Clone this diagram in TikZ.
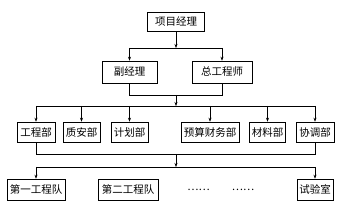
\documentclass[tikz,border=0pt]{standalone}
\usepackage{fontspec}
\newfontfamily\cjk{Noto Sans CJK SC}
\usetikzlibrary{arrows.meta}
\tikzstyle{box}   = [rectangle, draw=black, line width=0.6pt, inner sep=0pt, minimum height=20pt, text centered, font=\cjk\fontsize{10.5}{12}\selectfont]
\tikzstyle{arrow} = [line width=0.5pt,-{Stealth[length=4pt,width=3pt]}]
\tikzstyle{line}  = [line width=0.5pt]

\begin{document}
\begin{tikzpicture}[x=1pt, y=-1pt]
  \useasboundingbox (0,0) rectangle (343,211);

  % Top level
  \node[box, minimum width=57pt, minimum height=19pt] (pm) at (176,21.5) {项目经理};
  \node[box, minimum width=55pt, minimum height=22pt] (fu) at (129.5,72) {副经理};
  \node[box, minimum width=60pt, minimum height=22pt] (zg) at (222,72) {总工程师};

  % Departments
  \node[box, minimum width=38pt] (gc) at (36,132) {工程部};
  \node[box, minimum width=37pt] (za) at (81.5,132) {质安部};
  \node[box, minimum width=37pt] (jh) at (129.5,132) {计划部};
  \node[box, minimum width=58pt] (ys) at (210,132) {预算财务部};
  \node[box, minimum width=36pt] (cl) at (267.5,132) {材料部};
  \node[box, minimum width=38pt] (xt) at (315,132) {协调部};

  % Teams
  \node[box, minimum width=58pt, minimum height=21pt] (dy) at (36,189.5) {第一工程队};
  \node[box, minimum width=60pt, minimum height=21pt] (de) at (128,189.5) {第二工程队};
  \node[font=\cjk\fontsize{10.5}{12}\selectfont, inner sep=0pt] (d1) at (198.5,190) {……};
  \node[font=\cjk\fontsize{10.5}{12}\selectfont, inner sep=0pt] (d2) at (243,190) {……};
  \node[box, minimum width=36pt, minimum height=21pt] (sy) at (315,189.5) {试验室};

  % Junctions
  \coordinate (j1) at (176,48);
  \coordinate (j2) at (176,95);
  \coordinate (j3) at (176,106);
  \coordinate (j4) at (176,154);
  \coordinate (j5) at (176,167);

  % Flows
  \draw[arrow] (pm) -- (j1);
  \draw[line] (fu |- j1) -- (zg |- j1);
  \draw[arrow] (fu |- j1) -- (fu);
  \draw[arrow] (zg |- j1) -- (zg);
  \draw[line] (fu) -- (fu |- j2) -- (zg |- j2) -- (zg);
  \draw[arrow] (j2) -- (j3);
  \draw[line] (gc |- j3) -- (xt |- j3);
  \foreach \d in {gc, za, jh, ys, cl, xt}
    \draw[arrow] (\d |- j3) -- (\d);
  \draw[line] (gc) -- (gc |- j4) -- (xt |- j4) -- (xt);
  \draw[arrow] (j4) -- (j5);
  \draw[line] (dy |- j5) -- (sy |- j5);
  \draw[arrow] (dy |- j5) -- (dy);
  \draw[arrow] (sy |- j5) -- (sy);
\end{tikzpicture}
\end{document}
